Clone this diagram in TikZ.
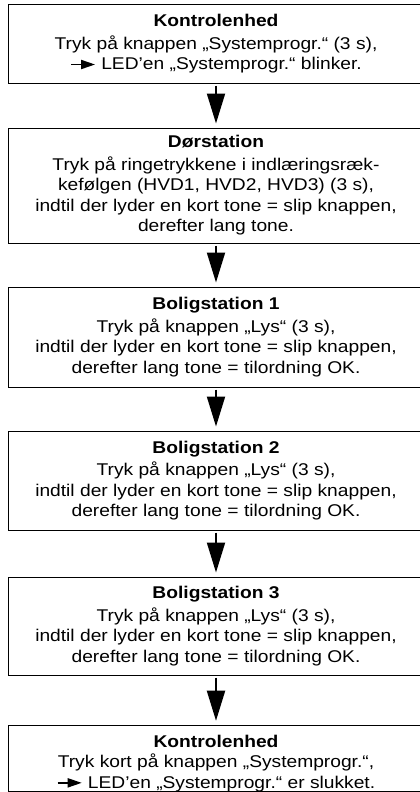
\documentclass[tikz,border=0pt]{standalone}
\usepackage{fontspec}
\setmainfont[FakeStretch=1.13]{Liberation Sans}
\usetikzlibrary{arrows.meta}
\tikzset{
  box/.style={draw, line width=1pt, minimum width=416pt, align=center, inner sep=0pt,
    font=\fontsize{17}{20.5}\selectfont},
  flow/.style={line width=2pt, -{Triangle[length=30pt,width=18pt]}, shorten <=2pt, shorten >=4pt}
}
\newcommand{\ledarrow}{\tikz[baseline=-0.6ex]\draw[line width=1.8pt,-{Triangle[length=14pt,width=9pt]}] (0,0) -- (24pt,0);}
\begin{document}
\begin{tikzpicture}[x=1pt,y=-1pt]
\useasboundingbox (0,0) rectangle (420,792);
\node[box, minimum height=78pt] (b1) at (216,44) {\textbf{Kontrolenhed}\\[2pt]
Tryk på knappen „Systemprogr.“ (3 s),\\
\ledarrow\ LED’en „Systemprogr.“ blinker.};
\node[box, minimum height=115pt] (b2) at (216,185.5) {\textbf{Dørstation}\\[2pt]
Tryk på ringetrykkene i indlæringsræk-\\
kefølgen (HVD1, HVD2, HVD3) (3 s),\\
indtil der lyder en kort tone = slip knappen,\\
derefter lang tone.};
\node[box, minimum height=100pt] (b3) at (216,337) {\textbf{Boligstation 1}\\[2pt]
Tryk på knappen „Lys“ (3 s),\\
indtil der lyder en kort tone = slip knappen,\\
derefter lang tone = tilordning OK.};
\node[box, minimum height=99pt] (b4) at (216,480.5) {\textbf{Boligstation 2}\\[2pt]
Tryk på knappen „Lys“ (3 s),\\
indtil der lyder en kort tone = slip knappen,\\
derefter lang tone = tilordning OK.};
\node[box, minimum height=98pt] (b5) at (216,626) {\textbf{Boligstation 3}\\[2pt]
Tryk på knappen „Lys“ (3 s),\\
indtil der lyder en kort tone = slip knappen,\\
derefter lang tone = tilordning OK.};
\node[box, minimum height=63pt] (b6) at (216,758.5) {\rule{0pt}{22pt}\textbf{Kontrolenhed}\\
Tryk kort på knappen „Systemprogr.“,\\
\ledarrow\ LED’en „Systemprogr.“ er slukket.};
\draw[flow] (b1) -- (b2);
\draw[flow] (b2) -- (b3);
\draw[flow] (b3) -- (b4);
\draw[flow] (b4) -- (b5);
\draw[flow] (b5) -- (b6);
\end{tikzpicture}
\end{document}
